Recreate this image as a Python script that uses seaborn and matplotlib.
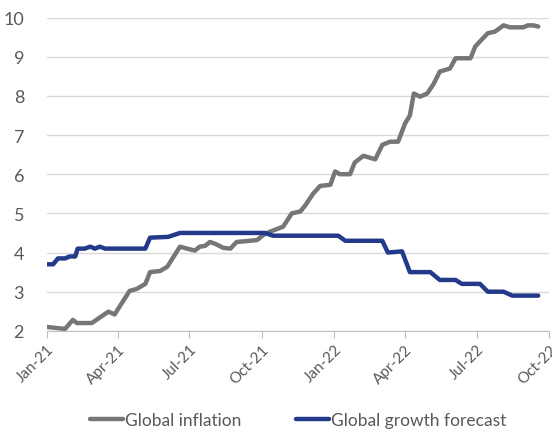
import pandas as pd
import seaborn as sns
import matplotlib.pyplot as plt
import matplotlib.dates as mdates

# global inflation (% y/y)
infl_dates = ["2021-01-01", "2021-01-24", "2021-02-03", "2021-02-08", "2021-02-27",
              "2021-03-20", "2021-03-28", "2021-04-16", "2021-04-25", "2021-05-06",
              "2021-05-12", "2021-05-25", "2021-06-03", "2021-06-19", "2021-06-28",
              "2021-07-08", "2021-07-14", "2021-07-21", "2021-07-27", "2021-08-03",
              "2021-08-13", "2021-08-22", "2021-08-30", "2021-09-16", "2021-09-25",
              "2021-10-03", "2021-10-11", "2021-10-28", "2021-11-08", "2021-11-19",
              "2021-11-25", "2021-12-05", "2021-12-14", "2021-12-27", "2022-01-02",
              "2022-01-08", "2022-01-21", "2022-01-27", "2022-02-07", "2022-02-22",
              "2022-03-03", "2022-03-13", "2022-03-23", "2022-04-01", "2022-04-07",
              "2022-04-12", "2022-04-20", "2022-04-29", "2022-05-07", "2022-05-15",
              "2022-05-28", "2022-06-04", "2022-06-23", "2022-06-29", "2022-07-05",
              "2022-07-15", "2022-07-24", "2022-08-04", "2022-08-12", "2022-08-29",
              "2022-09-04", "2022-09-11", "2022-09-17"]
infl_values = [2.10, 2.05, 2.28, 2.20, 2.20,
               2.49, 2.42, 3.02, 3.07, 3.20,
               3.50, 3.53, 3.64, 4.15, 4.10,
               4.05, 4.15, 4.17, 4.27, 4.22,
               4.12, 4.10, 4.27, 4.30, 4.32,
               4.45, 4.53, 4.66, 5.00, 5.05,
               5.20, 5.50, 5.70, 5.73, 6.07,
               6.00, 6.00, 6.30, 6.47, 6.38,
               6.75, 6.83, 6.83, 7.30, 7.50,
               8.06, 7.98, 8.06, 8.30, 8.62,
               8.70, 8.96, 8.96, 9.26, 9.39,
               9.60, 9.64, 9.80, 9.75, 9.75,
               9.80, 9.80, 9.77]

# global growth forecast (%)
growth_dates = ["2021-01-01", "2021-01-09", "2021-01-15", "2021-01-24", "2021-01-30",
                "2021-02-06", "2021-02-09", "2021-02-18", "2021-02-25", "2021-03-03",
                "2021-03-09", "2021-03-16", "2021-05-06", "2021-05-12", "2021-06-04",
                "2021-06-19", "2021-10-05", "2021-10-15", "2022-01-06", "2022-01-15",
                "2022-03-03", "2022-03-10", "2022-03-28", "2022-04-07", "2022-05-03",
                "2022-05-15", "2022-06-04", "2022-06-12", "2022-07-05", "2022-07-15",
                "2022-08-04", "2022-08-15", "2022-09-17"]
growth_values = [3.7, 3.7, 3.85, 3.85, 3.9,
                 3.9, 4.1, 4.1, 4.15, 4.1,
                 4.15, 4.1, 4.1, 4.38, 4.4,
                 4.5, 4.5, 4.43, 4.43, 4.3,
                 4.3, 4.0, 4.03, 3.5, 3.5,
                 3.3, 3.3, 3.2, 3.2, 3.0,
                 3.0, 2.9, 2.9]

tick_dates = ["2021-01-01", "2021-04-01", "2021-07-01", "2021-10-01",
              "2022-01-01", "2022-04-01", "2022-07-01", "2022-10-01"]

infl = pd.DataFrame({"date": pd.to_datetime(infl_dates), "value": infl_values})
growth = pd.DataFrame({"date": pd.to_datetime(growth_dates), "value": growth_values})

sns.set_style("white")
plt.rcParams['font.family'] = ['Lato', 'DejaVu Sans']

fig = plt.figure(figsize=(5.52, 4.31), dpi=100)
ax = fig.add_axes([0.085, 0.23, 0.91, 0.727])

sns.lineplot(data=infl, x="date", y="value", ax=ax, color="#767676", lw=3.2,
             label="Global inflation")
sns.lineplot(data=growth, x="date", y="value", ax=ax, color="#233A8B", lw=3.2,
             label="Global growth forecast")

ax.set_ylim(2, 10)
ax.set_xlim(pd.Timestamp("2021-01-01"), pd.Timestamp("2022-10-01"))
ax.set_yticks(range(2, 11))
ax.set_xticks(pd.to_datetime(tick_dates))
ax.xaxis.set_major_formatter(mdates.DateFormatter("%b-%y"))
ax.grid(axis="y", color="#D9D9D9", lw=1)
ax.set_axisbelow(True)
for s in ["left", "right", "top"]:
    ax.spines[s].set_visible(False)
ax.spines["bottom"].set_color("#BFBFBF")
ax.tick_params(axis="x", bottom=True, length=5, color="#BFBFBF", labelsize=11,
               labelcolor="#595959", pad=3)
ax.tick_params(axis="y", left=False, labelsize=13, labelcolor="#595959", pad=13)
plt.setp(ax.get_xticklabels(), rotation=45, ha="right", rotation_mode="anchor")
ax.set_xlabel("")
ax.set_ylabel("")

leg = ax.legend(loc="lower center", bbox_to_anchor=(0.5, -0.36), ncol=2, frameon=False,
                fontsize=12.5, handlelength=1.9, handletextpad=0.15, columnspacing=3.1,
                labelcolor="#595959")

fig.savefig("out.png", dpi=100)
